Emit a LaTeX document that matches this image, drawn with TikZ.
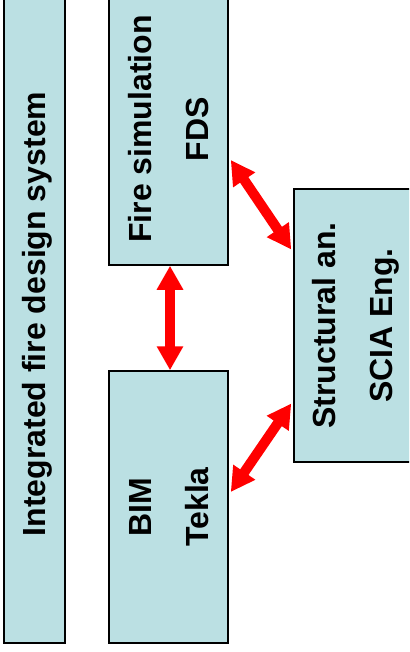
\documentclass[tikz,border=0pt]{standalone}
\usepackage{fontspec}
\setmainfont{Liberation Sans}
\usepackage{graphicx}
\usetikzlibrary{arrows.meta}
\definecolor{boxfill}{RGB}{187,224,227}
\newcommand{\boxtext}[1]{\rotatebox{90}{\begin{tabular}{c}#1\end{tabular}}}
\begin{document}
\begin{tikzpicture}[x=1pt,y=-1pt,
  box/.style={draw=black, line width=1.5pt, fill=boxfill, inner sep=0pt,
    font=\fontsize{32}{57}\selectfont\bfseries},
  link/.style={draw=red, line width=10pt, {Triangle[width=25pt,length=24pt]}-{Triangle[width=25pt,length=24pt]}}]
\useasboundingbox (0,0) rectangle (409,652);
\clip (0,0) rectangle (409,652);
% boxes
\node[box, minimum width=61pt, minimum height=658pt] (sys) at (34.5,314) {\boxtext{Integrated fire design system}};
\node[box, minimum width=119pt, minimum height=272pt] (fds) at (168.5,129) {\boxtext{Fire simulation\\FDS}};
\node[box, minimum width=119pt, minimum height=272pt] (bim) at (168.5,507) {\boxtext{BIM\\Tekla}};
\node[box, minimum width=118pt, minimum height=273pt] (scia) at (353,325.5) {\boxtext{Structural an.\\SCIA Eng.}};
% links
\draw[link] ([xshift=1.5pt]fds.south) -- ([xshift=1.5pt]bim.north);
\draw[link] ([xshift=2pt,yshift=-31pt]fds.east) -- ([xshift=-2pt,yshift=76pt]scia.west);
\draw[link] ([xshift=2pt,yshift=15pt]bim.east) -- ([xshift=-2pt,yshift=-78pt]scia.west);
\end{tikzpicture}
\end{document}
